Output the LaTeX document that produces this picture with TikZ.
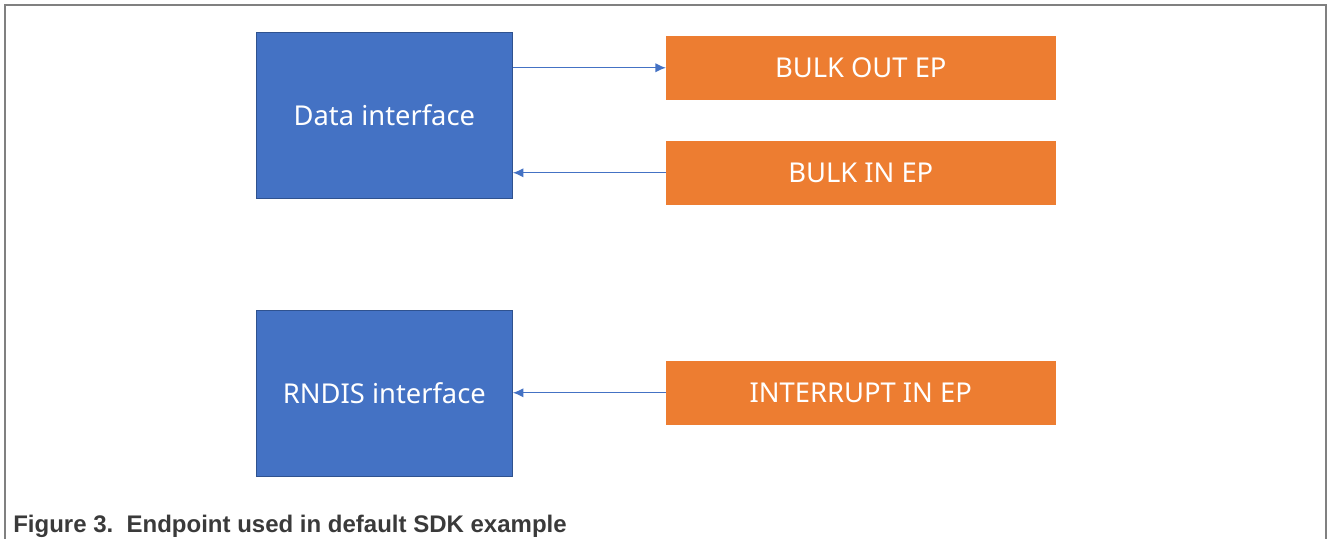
\documentclass[tikz,border=0pt]{standalone}
\usepackage{fontspec}
\setmainfont{Liberation Sans}
\newfontfamily\boxfont{Noto Sans}
\usetikzlibrary{arrows.meta}

\definecolor{ifblue}{HTML}{4472C4}
\definecolor{ifedge}{HTML}{2F528F}
\definecolor{eporange}{HTML}{ED7D31}
\definecolor{framegray}{HTML}{808080}
\definecolor{capgray}{HTML}{3A3A3A}

\tikzset{
    ifbox/.style={draw=ifedge, line width=0.6pt, fill=ifblue, text=white,
        minimum width=192pt, minimum height=124.5pt, anchor=north west,
        inner sep=0pt, font=\boxfont\fontsize{20.5}{24}\selectfont},
    epbox/.style={draw=eporange, fill=eporange, text=white,
        minimum width=291.75pt, minimum height=47.25pt, anchor=north west,
        inner sep=0pt, font=\boxfont\fontsize{20.5}{24}\selectfont},
    eparrow/.style={draw=ifblue, line width=1pt, -{Latex[length=8pt,width=7pt]}}
}

\begin{document}
\begin{tikzpicture}[x=0.75pt, y=-0.75pt]
        \useasboundingbox (0,0) rectangle (1328,539);

        % frame
        \draw[framegray, line width=1.1pt] (5,539) -- (5,5) -- (1326,5) -- (1326,539);

        % interfaces
        \node[ifbox] (data) at (256,32) {Data interface};
        \node[ifbox] (rndis) at (256,310) {RNDIS interface};

        % endpoints
        \node[epbox] (bulkout) at (666,36) {BULK OUT EP};
        \node[epbox] (bulkin) at (666,141) {BULK IN EP};
        \node[epbox] (intin) at (666,361) {INTERRUPT IN EP};

        \draw[eparrow] (data.east |- bulkout.west) -- (bulkout.west);
        \draw[eparrow] (bulkin.west) -- (data.east |- bulkin.west);
        \draw[eparrow] (intin.west) -- (rndis.east |- intin.west);

        \node[anchor=base west, text=capgray, font=\bfseries\fontsize{18}{20}\selectfont,
            inner sep=0pt] (caption) at (13,532) {Figure 3.\ \ Endpoint used in default SDK example};
\end{tikzpicture}
\end{document}
